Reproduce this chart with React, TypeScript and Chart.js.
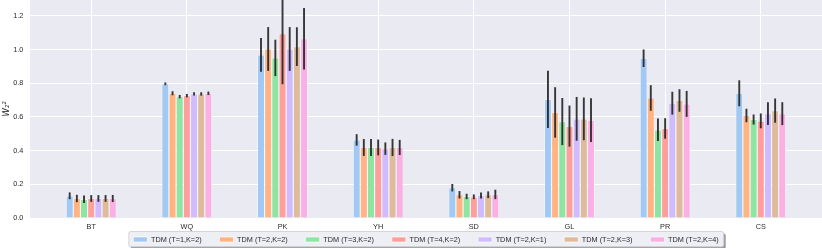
import React, { useEffect, useRef } from "react";
import { Chart, registerables } from "chart.js";

Chart.register(...registerables);

const categories = ["BT", "WQ", "PK", "YH", "SD", "GL", "PR", "CS"];
const seriesLabels = [
  "TDM (T=1,K=2)",
  "TDM (T=2,K=2)",
  "TDM (T=3,K=2)",
  "TDM (T=4,K=2)",
  "TDM (T=2,K=1)",
  "TDM (T=2,K=3)",
  "TDM (T=2,K=4)",
];

// mean values per series (order follows categories)
const t1k2 = [0.132, 0.797, 0.969, 0.464, 0.18, 0.704, 0.949, 0.741];
const t2k2 = [0.116, 0.741, 1.004, 0.419, 0.138, 0.627, 0.713, 0.609];
const t3k2 = [0.111, 0.721, 0.951, 0.419, 0.128, 0.573, 0.524, 0.585];
const t4k2 = [0.116, 0.727, 1.095, 0.419, 0.126, 0.546, 0.532, 0.577];
const t2k1 = [0.116, 0.737, 1.004, 0.412, 0.134, 0.589, 0.682, 0.62];
const t2k3 = [0.116, 0.737, 1.018, 0.419, 0.138, 0.589, 0.698, 0.638];
const t2k4 = [0.116, 0.741, 1.065, 0.419, 0.14, 0.581, 0.678, 0.62];

// error half-widths per series
const e_t1k2 = [0.02, 0.008, 0.1, 0.034, 0.022, 0.17, 0.052, 0.077];
const e_t2k2 = [0.022, 0.012, 0.13, 0.05, 0.022, 0.15, 0.076, 0.04];
const e_t3k2 = [0.022, 0.01, 0.108, 0.05, 0.016, 0.14, 0.067, 0.03];
const e_t4k2 = [0.02, 0.01, 0.3, 0.047, 0.014, 0.122, 0.061, 0.044];
const e_t2k1 = [0.02, 0.01, 0.13, 0.037, 0.018, 0.13, 0.068, 0.067];
const e_t2k3 = [0.02, 0.01, 0.115, 0.051, 0.02, 0.127, 0.067, 0.072];
const e_t2k4 = [0.021, 0.01, 0.183, 0.045, 0.028, 0.13, 0.077, 0.068];

const yTicks = [0, 0.2, 0.4, 0.6, 0.8, 1.0, 1.2];

const seriesValues = [t1k2, t2k2, t3k2, t4k2, t2k1, t2k3, t2k4];
const seriesErrors = [e_t1k2, e_t2k2, e_t3k2, e_t4k2, e_t2k1, e_t2k3, e_t2k4];
const colors = ["#a1c9f4", "#ffb482", "#8de5a1", "#ff9f9b", "#d0bbff", "#debb9b", "#fab0e4"];

const FONT = "'Liberation Sans', Arial, sans-serif";
const TEXT = "#2b2b2b";

function roundRect(ctx: CanvasRenderingContext2D, x: number, y: number, w: number, h: number, r: number) {
  ctx.beginPath();
  ctx.moveTo(x + r, y);
  ctx.lineTo(x + w - r, y);
  ctx.arcTo(x + w, y, x + w, y + r, r);
  ctx.lineTo(x + w, y + h - r);
  ctx.arcTo(x + w, y + h, x + w - r, y + h, r);
  ctx.lineTo(x + r, y + h);
  ctx.arcTo(x, y + h, x, y + h - r, r);
  ctx.lineTo(x, y + r);
  ctx.arcTo(x, y, x + r, y, r);
  ctx.closePath();
}

const backgroundPlugin = {
  id: "bgAndLegendFrame",
  beforeDraw(chart: any) {
    const { ctx, chartArea: a } = chart;
    ctx.save();
    ctx.fillStyle = "#eaeaf2";
    ctx.fillRect(a.left, a.top, a.right - a.left, a.bottom - a.top);
    const hb = chart.legend && chart.legend.legendHitBoxes;
    if (hb && hb.length) {
      const l = Math.min(...hb.map((h: any) => h.left)) - 4.5;
      const r = Math.max(...hb.map((h: any) => h.left + h.width)) + 5;
      const cy = hb[0].top + hb[0].height / 2;
      const t = cy - 8;
      const b = cy + 7.3;
      ctx.fillStyle = "rgba(0,0,0,0.4)";
      roundRect(ctx, l + 2, t + 2, r - l, b - t, 2);
      ctx.fill();
      ctx.fillStyle = "#eeeef5";
      roundRect(ctx, l, t, r - l, b - t, 2);
      ctx.fill();
      ctx.strokeStyle = "#cccccc";
      ctx.lineWidth = 0.8;
      ctx.stroke();
    }
    ctx.restore();
  },
};

const errorBarPlugin = {
  id: "errorBars",
  afterDatasetsDraw(chart: any) {
    const { ctx, chartArea: a } = chart;
    const yScale = chart.scales.y;
    ctx.save();
    ctx.beginPath();
    ctx.rect(a.left, a.top, a.right - a.left, a.bottom - a.top);
    ctx.clip();
    ctx.strokeStyle = "rgba(38,38,38,0.92)";
    ctx.lineWidth = 1.9;
    seriesValues.forEach((vals, i) => {
      const meta = chart.getDatasetMeta(i);
      meta.data.forEach((el: any, j: number) => {
        const v = vals[j];
        const e = seriesErrors[i][j];
        const y1 = yScale.getPixelForValue(v + e);
        const y2 = yScale.getPixelForValue(v - e);
        ctx.beginPath();
        ctx.moveTo(el.x, y1);
        ctx.lineTo(el.x, y2);
        ctx.stroke();
      });
    });
    ctx.restore();
  },
};

export default function App() {
  const ref = useRef<HTMLCanvasElement>(null);

  useEffect(() => {
    const canvas = ref.current;
    if (!canvas) return;
    const chart = new Chart(canvas, {
      type: "bar",
      data: {
        datasets: seriesLabels.map((label, i) => ({
          label,
          data: categories.map((_, j) => ({ x: j, y: seriesValues[i][j] })),
          backgroundColor: colors[i],
          borderColor: "#ffffff",
          borderWidth: 0.6,
          categoryPercentage: 0.525,
          barPercentage: 1.0,
        })),
      },
      options: {
        animation: false,
        responsive: false,
        devicePixelRatio: 1,
        events: [],
        layout: { padding: 0 },
        scales: {
          x: {
            type: "linear",
            min: -0.64,
            max: 7.64,
            offset: false,
            border: { display: false },
            grid: { color: "#ffffff", lineWidth: 1, drawTicks: false, offset: false },
            afterBuildTicks: (scale: any) => {
              scale.ticks = categories.map((_, i) => ({ value: i }));
            },
            afterFit: (scale: any) => {
              scale.height = 0;
              scale.paddingLeft = 0;
              scale.paddingRight = 0;
              // let the tick labels draw below the zero-height axis box
              scale._computeLabelArea = () => undefined;
            },
            ticks: {
              autoSkip: false,
              maxRotation: 0,
              padding: 4.6,
              color: TEXT,
              font: { family: FONT, size: 7.3 },
              callback: (value: any) => categories[Math.round(Number(value))] ?? "",
            },
          },
          y: {
            type: "linear",
            min: 0,
            max: 1.295,
            border: { display: false },
            grid: { color: "#ffffff", lineWidth: 1, drawTicks: false },
            afterBuildTicks: (scale: any) => {
              scale.ticks = yTicks.map((v) => ({ value: v }));
            },
            afterFit: (scale: any) => {
              scale.width = 30;
              scale.paddingTop = 0;
              scale.paddingBottom = 0;
            },
            ticks: {
              padding: 6.7,
              color: TEXT,
              font: { family: FONT, size: 7.3 },
              callback: (value: any) => Number(value).toFixed(1),
            },
            title: {
              display: true,
              text: "W₂²",
              color: TEXT,
              font: { family: "'DejaVu Sans', sans-serif", size: 8.5, style: "italic" },
              padding: { top: 1.5, bottom: 0 },
            },
          },
        },
        plugins: {
          tooltip: { enabled: false },
          legend: {
            display: true,
            position: "bottom",
            fullSize: false,
            maxHeight: 30,
            labels: {
              boxWidth: 14,
              boxHeight: 5,
              padding: 17.85,
              color: TEXT,
              font: { family: FONT, size: 7.3 },
            },
          },
        },
      } as any,
      plugins: [backgroundPlugin, errorBarPlugin],
    });
    return () => chart.destroy();
  }, []);

  return (
    <canvas
      ref={ref}
      width={822}
      height={248}
      style={{ position: "fixed", left: 0, top: 0, width: 822, height: 248, display: "block" }}
    />
  );
}
